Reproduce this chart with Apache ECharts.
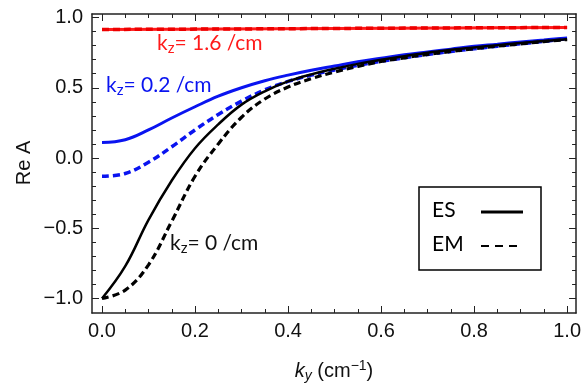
<!DOCTYPE html>
<html>
<head>
<meta charset="utf-8">
<script src="https://cdn.jsdelivr.net/npm/echarts@6/dist/echarts.min.js"></script>
<style>html,body{margin:0;padding:0;background:#fff}#c{width:584px;height:388px}</style>
</head>
<body>
<div id="c"></div>
<script>
// ---- data ----
const ky     = [0, 0.05, 0.1, 0.15, 0.2, 0.25, 0.3, 0.35, 0.4, 0.45, 0.5, 0.55, 0.6, 0.65, 0.7, 0.75, 0.8, 0.85, 0.9, 0.95, 1.0];
const esKz0  = [-1.0, -0.77, -0.44, -0.16, 0.07, 0.24, 0.38, 0.475, 0.545, 0.595, 0.635, 0.67, 0.70, 0.725, 0.75, 0.77, 0.787, 0.803, 0.818, 0.832, 0.845];
const emKz0  = [-1.0, -0.94, -0.76, -0.45, -0.13, 0.10, 0.29, 0.42, 0.505, 0.565, 0.612, 0.652, 0.687, 0.713, 0.738, 0.758, 0.778, 0.796, 0.812, 0.829, 0.843];
const esKz02 = [0.11, 0.13, 0.20, 0.285, 0.365, 0.44, 0.50, 0.55, 0.59, 0.625, 0.655, 0.685, 0.71, 0.735, 0.755, 0.775, 0.795, 0.81, 0.826, 0.84, 0.855];
const emKz02 = [-0.13, -0.11, -0.03, 0.08, 0.20, 0.31, 0.405, 0.485, 0.545, 0.59, 0.627, 0.66, 0.688, 0.713, 0.737, 0.758, 0.778, 0.796, 0.813, 0.83, 0.85];
const kyRed  = [0, 0.25, 0.5, 0.75, 1.0];
const esKz16 = [0.915, 0.918, 0.922, 0.926, 0.929];
const emKz16 = [0.915, 0.918, 0.922, 0.926, 0.929];
const xMajorTicks = [0, 0.2, 0.4, 0.6, 0.8, 1.0];
const xMinorTicks = [0.05, 0.1, 0.15, 0.25, 0.3, 0.35, 0.45, 0.5, 0.55, 0.65, 0.7, 0.75, 0.85, 0.9, 0.95];
const yMajorTicks = [-1.0, -0.5, 0, 0.5, 1.0];
const yMinorTicks = [-0.9, -0.8, -0.7, -0.6, -0.4, -0.3, -0.2, -0.1, 0.1, 0.2, 0.3, 0.4, 0.6, 0.7, 0.8, 0.9];

const pair = (xs, ys) => xs.map((x, i) => [x, ys[i]]);
const XMIN = -0.0215, XMAX = 1.0193, YMIN = -1.103, YMAX = 1.025;
const AX = '#222';
const TICKFONT = 'Liberation Sans';
const fmt = v => (v < 0 ? '\u2212' : '') + Math.abs(v).toFixed(1);

function xAx(pos, ticks, len, labels, line) {
  return {type: 'value', position: pos, min: XMIN, max: XMAX,
    axisLine: {show: line, onZero: false, lineStyle: {color: AX, width: 1.5}},
    axisTick: {show: true, inside: true, length: len, customValues: ticks, lineStyle: {color: AX, width: 1}},
    axisLabel: {show: labels, customValues: ticks, formatter: fmt, margin: 8,
      color: '#111', fontFamily: TICKFONT, fontSize: 20},
    splitLine: {show: false}};
}
function yAx(pos, ticks, len, labels, line) {
  return {type: 'value', position: pos, min: YMIN, max: YMAX,
    axisLine: {show: line, onZero: false, lineStyle: {color: AX, width: 1.5}},
    axisTick: {show: true, inside: true, length: len, customValues: ticks, lineStyle: {color: AX, width: 1}},
    axisLabel: {show: labels, customValues: ticks, formatter: fmt, margin: 9,
      color: '#111', fontFamily: TICKFONT, fontSize: 20},
    splitLine: {show: false}};
}
const lineS = (data, color, width, dashed, z) => ({
  type: 'line', data, showSymbol: false, smooth: 0.4, z: z,
  lineStyle: {color, width, type: dashed ? [7, 4] : 'solid'}, silent: true, animation: false
});
const annFont = 'Lato';
const annRich = (color) => ({
  a: {fontFamily: annFont, fontSize: 21, fill: color},
  s: {fontFamily: annFont, fontSize: 15, fill: color, padding: [10, 0, 0, 0]}
});

const chart = echarts.init(document.getElementById('c'), null, {renderer: 'canvas'});
chart.setOption({
  animation: false,
  backgroundColor: '#fff',
  grid: {left: 92, right: 7, top: 14, bottom: 75, containLabel: false},
  xAxis: [xAx('bottom', xMajorTicks, 7, true, true), xAx('bottom', xMinorTicks, 4, false, false),
          xAx('top', xMajorTicks, 7, false, true), xAx('top', xMinorTicks, 4, false, false)],
  yAxis: [yAx('left', yMajorTicks, 7, true, true), yAx('left', yMinorTicks, 4, false, false),
          yAx('right', yMajorTicks, 7, false, true), yAx('right', yMinorTicks, 4, false, false)],
  series: [
    lineS(pair(kyRed, esKz16), '#ff1a1a', 3, false, 2),
    lineS(pair(kyRed, emKz16), '#ee0000', 3.5, true, 3),
    lineS(pair(ky, esKz02), '#0a14f0', 3, false, 4),
    lineS(pair(ky, emKz02), '#0a14f0', 3.5, true, 5),
    lineS(pair(ky, esKz0), '#000', 2.5, false, 6),
    lineS(pair(ky, emKz0), '#000', 3.2, true, 7)
  ],
  graphic: [
    {type: 'text', left: 157, top: 33, z: 50, style: {text: '{a|k}{s|z}{a|= 1.6 /cm}', rich: annRich('#ff1a1a')}},
    {type: 'text', left: 106, top: 75, z: 50, style: {text: '{a|k}{s|z}{a|= 0.2 /cm}', rich: annRich('#0a14f0')}},
    {type: 'text', left: 170, top: 233, z: 50, style: {text: '{a|k}{s|z}{a|= 0 /cm}', rich: annRich('#111')}},
    // legend box
    {type: 'rect', shape: {x: 419, y: 187, width: 122, height: 83}, z: 50,
      style: {fill: '#fff', stroke: '#000', lineWidth: 1.5}},
    {type: 'text', left: 432, top: 200, z: 51, style: {text: 'ES', fontFamily: annFont, fontSize: 21, fill: '#000'}},
    {type: 'text', left: 432, top: 234, z: 51, style: {text: 'EM', fontFamily: annFont, fontSize: 21, fill: '#000'}},
    {type: 'line', z: 51, shape: {x1: 481, y1: 212, x2: 523, y2: 212}, style: {stroke: '#000', lineWidth: 3}},
    {type: 'line', z: 51, shape: {x1: 481, y1: 246, x2: 518, y2: 246}, style: {stroke: '#000', lineWidth: 2, lineDash: [8, 6]}},
    // axis titles
    {type: 'text', x: 334, y: 371, z: 50, style: {
      text: '{i|k}{sub|y}{n| (cm}{sup|\u22121}{n|)}', align: 'center', verticalAlign: 'middle',
      rich: {
        i: {fontFamily: TICKFONT, fontStyle: 'italic', fontSize: 20, fill: '#111'},
        sub: {fontFamily: TICKFONT, fontStyle: 'italic', fontSize: 14, fill: '#111', padding: [10, 0, 0, 0]},
        n: {fontFamily: TICKFONT, fontSize: 20, fill: '#111'},
        sup: {fontFamily: TICKFONT, fontSize: 14, fill: '#111', padding: [0, 0, 10, 0]}
      }}},
    {type: 'text', x: 24, y: 163, rotation: Math.PI / 2, z: 50, style: {
      text: 'Re A', align: 'center', verticalAlign: 'middle',
      fontFamily: TICKFONT, fontSize: 20, fill: '#111'}}
  ]
});
</script>
</body>
</html>
